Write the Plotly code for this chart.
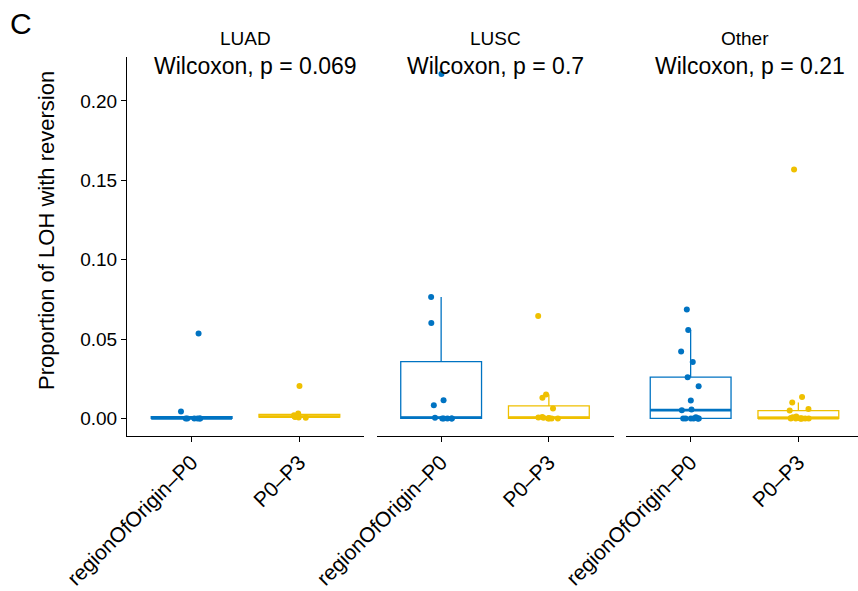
import numpy as np
import plotly.graph_objects as go

# Facets, groups and test results
panels = ["LUAD", "LUSC", "Other"]
groups = ["regionOfOrigin–P0", "P0–P3"]
p_values = ["0.069", "0.7", "0.21"]

# Proportion of LOH with reversion, per facet and group
luad_origin = [0, 0, 0, 0, 0, 0, 0.0044, 0.0535]
luad_p0p3 = [0.0005, 0.0006, 0.0010, 0.0012, 0.0021, 0.0031, 0.0205]
lusc_origin = [0, 0, 0, 0, 0, 0.0005, 0.0084, 0.0115, 0.0602, 0.0765, 0.2170]
lusc_p0p3 = [0, 0, 0, 0, 0.0003, 0.0005, 0.0006, 0.0010, 0.0063, 0.0130, 0.0151, 0.0646]
other_origin = [0, 0, 0, 0, 0, 0, 0, 0.0008, 0.0052, 0.0057, 0.0113, 0.0203,
                0.0260, 0.0355, 0.0422, 0.0558, 0.0686]
other_p0p3 = [0, 0, 0, 0, 0, 0, 0, 0, 0.0003, 0.0005, 0.0008, 0.0012,
              0.0050, 0.0060, 0.0101, 0.0136, 0.1568]

y_ticks = [0, 0.05, 0.10, 0.15, 0.20]

data = {
    "LUAD": [luad_origin, luad_p0p3],
    "LUSC": [lusc_origin, lusc_p0p3],
    "Other": [other_origin, other_p0p3],
}

colors = ["#0073C2", "#EFC000"]
FONT = "Liberation Sans, Arial, Helvetica, sans-serif"
W, H = 858, 591

# panel geometry in pixels
px_per_unit = 107.73
panel_left = [127, 376.5, 626]
panel_w = 237
y_top_px, y_bot_px = 56.7, 435.7
BOX_W = 0.75


def box_stats(values):
    v = np.sort(np.asarray(values, dtype=float))
    q1, med, q3 = np.quantile(v, [0.25, 0.5, 0.75])
    iqr = q3 - q1
    hi = v[v <= q3 + 1.5 * iqr].max()
    lo = v[v >= q1 - 1.5 * iqr].min()
    return q1, med, q3, min(lo, q1), max(hi, q3)


rng = np.random.default_rng(7)
fig = go.Figure()
all_vals = []

for p_idx, panel in enumerate(panels):
    xa = "x" if p_idx == 0 else f"x{p_idx + 1}"
    for g_idx, values in enumerate(data[panel]):
        all_vals.extend(values)
        cx = g_idx + 1
        q1, med, q3, lo, hi = box_stats(values)
        col = colors[g_idx]
        fig.add_trace(go.Box(
            x=[cx], q1=[q1], median=[med], q3=[q3],
            lowerfence=[lo], upperfence=[hi],
            width=BOX_W, whiskerwidth=0, boxpoints=False,
            fillcolor="white", line=dict(color=col, width=1.3),
            xaxis=xa, yaxis="y", showlegend=False, hoverinfo="skip",
        ))
        # thicker median bar
        fig.add_trace(go.Scatter(
            x=[cx - BOX_W / 2, cx + BOX_W / 2], y=[med, med], mode="lines",
            line=dict(color=col, width=2.8), xaxis=xa, yaxis="y",
            showlegend=False, hoverinfo="skip",
        ))
        jitter = rng.uniform(-0.1, 0.1, len(values))
        fig.add_trace(go.Scatter(
            x=cx + jitter, y=values, mode="markers",
            marker=dict(color=col, size=6, line=dict(width=0)),
            xaxis=xa, yaxis="y", showlegend=False,
        ))

ymin, ymax = min(all_vals), max(all_vals)
span = ymax - ymin
y_range = [ymin - 0.05 * span, ymax + 0.05 * span]

axis_common = dict(
    showline=True, linecolor="black", linewidth=1.1,
    ticks="outside", ticklen=5, tickwidth=1.1, tickcolor="black",
    showgrid=False, zeroline=False, automargin=False,
    tickfont=dict(family=FONT, size=19, color="black"),
)

layout = dict(
    template="none",
    width=W, height=H,
    margin=dict(l=0, r=0, t=0, b=0, autoexpand=False),
    paper_bgcolor="white", plot_bgcolor="white",
    showlegend=False,
)

for p_idx in range(3):
    key = "xaxis" if p_idx == 0 else f"xaxis{p_idx + 1}"
    left = panel_left[p_idx]
    right = min(left + panel_w, W)
    layout[key] = dict(
        axis_common,
        domain=[left / W, right / W],
        range=[0.4, 0.4 + (right - left) / px_per_unit],
        anchor="y",
        tickvals=[1, 2], ticktext=groups, tickangle=-45,
        tickfont=dict(family=FONT, size=21, color="black"),
    )

layout["yaxis"] = dict(
    axis_common,
    domain=[1 - y_bot_px / H, 1 - y_top_px / H],
    range=y_range, anchor="x",
    tickvals=y_ticks, ticktext=[f"{t:.2f}" for t in y_ticks],
)

annotations = [
    dict(text="C", x=8 / W, y=1 - 5 / H, xref="paper", yref="paper",
         xanchor="left", yanchor="top", showarrow=False,
         font=dict(family=FONT, size=30, color="black")),
    dict(text="Proportion of LOH with reversion", textangle=-90,
         x=47 / W, y=1 - 231 / H, xref="paper", yref="paper",
         xanchor="center", yanchor="middle", showarrow=False,
         font=dict(family=FONT, size=22, color="black")),
]

wilcox_left_px = [151.7, 405, 652.7]
for p_idx, panel in enumerate(panels):
    xa = "x" if p_idx == 0 else f"x{p_idx + 1}"
    annotations.append(dict(
        text=panel, x=1.5, y=1 - 39 / H, xref=xa, yref="paper",
        xanchor="center", yanchor="middle", showarrow=False,
        font=dict(family=FONT, size=19, color="black")))
    annotations.append(dict(
        text=f"Wilcoxon, p = {p_values[p_idx]}",
        x=wilcox_left_px[p_idx] / W, y=1 - 66 / H, xref="paper", yref="paper",
        xanchor="left", yanchor="middle", showarrow=False,
        font=dict(family=FONT, size=23, color="black")))

layout["annotations"] = annotations
fig.update_layout(**layout)

fig.write_html("out.html")
